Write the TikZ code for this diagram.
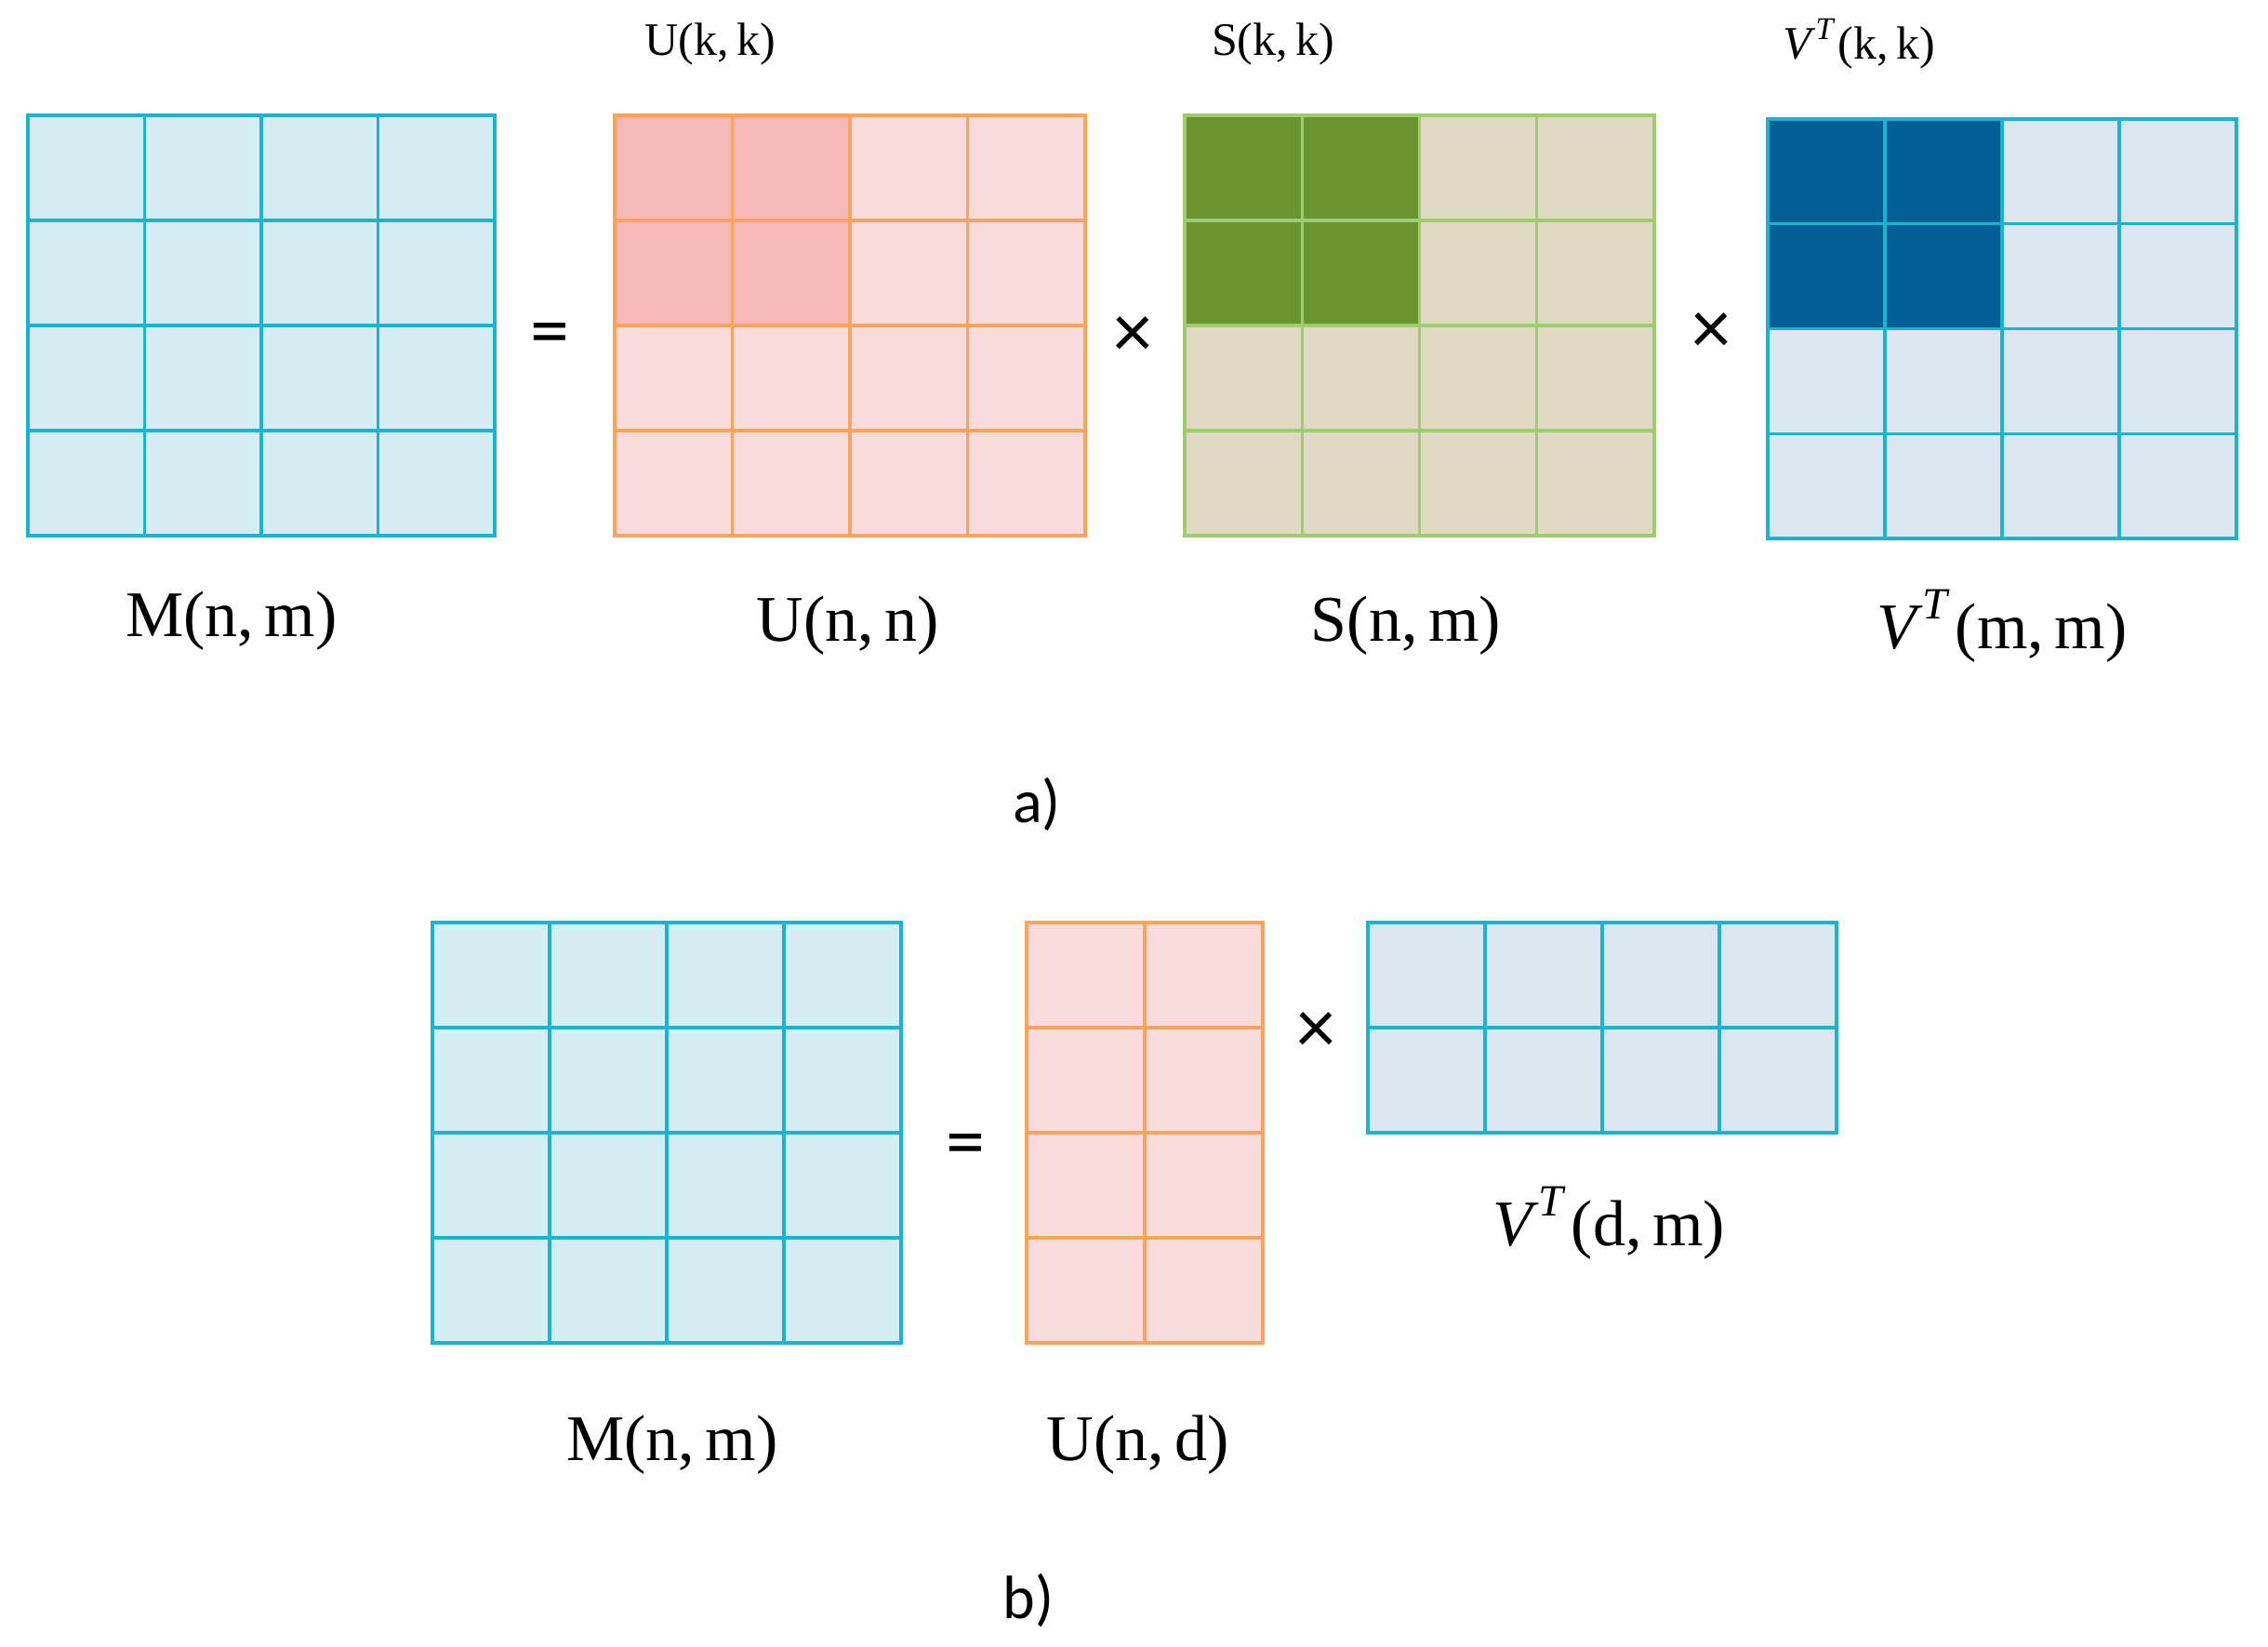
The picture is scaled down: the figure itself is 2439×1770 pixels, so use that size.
\documentclass[tikz,border=0pt]{standalone}
\usepackage{fontspec}
\setmainfont{Liberation Serif}
\newfontfamily\calfont{Carlito}
\usetikzlibrary{calc}
\definecolor{cyanline}{RGB}{26,180,208}
\definecolor{mfill}{HTML}{D5EEF4}
\definecolor{orangeline}{HTML}{F9A35B}
\definecolor{ufill}{HTML}{F8DCDC}
\definecolor{udark}{HTML}{F4B8B8}
\definecolor{greenline}{HTML}{A0CC70}
\definecolor{sfill}{HTML}{E0DAC3}
\definecolor{sdark}{HTML}{6A9430}
\definecolor{vfill}{HTML}{DAE6F0}
\definecolor{vdark}{HTML}{015F95}
\newcommand\gridlines[4]{%
  \foreach \i in {0,...,#2}{\draw[gridline,#4] ($(#1.north west)!\i/#2!(#1.north east)$) -- ($(#1.south west)!\i/#2!(#1.south east)$);}
  \foreach \j in {0,...,#3}{\draw[gridline,#4] ($(#1.north west)!\j/#3!(#1.south west)$) -- ($(#1.north east)!\j/#3!(#1.south east)$);}
}
\newcommand\VT{\textit{V}\raisebox{0.45em}{\fontsize{48}{54}\selectfont\textit{T}}\kern0.08em}
\begin{document}
\begin{tikzpicture}[x=1pt,y=-1pt,
  mat/.style={inner sep=0pt, outer sep=0pt, anchor=north west},
  gridline/.style={line width=3.4pt, line cap=rect},
  lab/.style={font=\fontsize{70}{80}\selectfont, inner sep=0pt},
  small/.style={font=\fontsize{50}{60}\selectfont, inner sep=0pt},
  opsym/.style={font=\calfont\fontsize{84}{90}\selectfont, inner sep=0pt},
  captxt/.style={font=\calfont\fontsize{66}{80}\selectfont, inner sep=0pt}]
\useasboundingbox[fill=white] (0,0) rectangle (2439,1770);
% ---------- a) ----------
\node[mat, fill=mfill, minimum width=502pt, minimum height=452pt] (Ma) at (30,124) {};
\node[mat, fill=ufill, minimum width=506pt, minimum height=452pt] (Ua) at (661,124) {};
\node[mat, fill=sfill, minimum width=505pt, minimum height=452pt] (Sa) at (1274,124) {};
\node[mat, fill=vfill, minimum width=504pt, minimum height=451pt] (Va) at (1901,128) {};
\fill[udark] (Ua.north west) rectangle (Ua.center);
\fill[sdark] (Sa.north west) rectangle (Sa.center);
\fill[vdark] (Va.north west) rectangle (Va.center);
\gridlines{Ma}{4}{4}{cyanline}
\gridlines{Ua}{4}{4}{orangeline}
\gridlines{Sa}{4}{4}{greenline}
\gridlines{Va}{4}{4}{cyanline}
\node[opsym] (eqa) at (591,365) {=};
\node[opsym] (xa1) at (1218,362) {×};
\node[opsym] (xa2) at (1840,358) {×};
\node[small] (lUk) at (764,47) {U(k,\,k)};
\node[small] (lSk) at (1369,47) {S(k,\,k)};
\node[small] (lVk) at (1999,47) {\textit{V}\raisebox{0.42em}{\fontsize{34}{38}\selectfont\textit{T}}\kern0.06em(k,\,k)};
\node[lab] (lMa) at (249,668) {M(n,\,m)};
\node[lab] (lUa) at (912,673) {U(n,\,n)};
\node[lab] (lSa) at (1512,673) {S(n,\,m)};
\node[lab] (lVa) at (2153,673) {\VT(m,\,m)};
\node[captxt] (capa) at (1115,865) {a)};
% ---------- b) ----------
\node[mat, fill=mfill, minimum width=504pt, minimum height=452pt] (Mb) at (465,992) {};
\node[mat, fill=ufill, minimum width=254pt, minimum height=452pt] (Ub) at (1104,992) {};
\node[mat, fill=vfill, minimum width=504pt, minimum height=226pt] (Vb) at (1471,992) {};
\gridlines{Mb}{4}{4}{cyanline}
\gridlines{Ub}{2}{4}{orangeline}
\gridlines{Vb}{4}{2}{cyanline}
\node[opsym] (eqb) at (1038,1237) {=};
\node[opsym] (xb) at (1415,1110) {×};
\node[lab] (lVb) at (1730,1315) {\VT(d,\,m)};
\node[lab] (lMb) at (723,1554) {M(n,\,m)};
\node[lab] (lUb) at (1224,1554) {U(n,\,d)};
\node[captxt] (capb) at (1106,1721) {b)};
\end{tikzpicture}
\end{document}
